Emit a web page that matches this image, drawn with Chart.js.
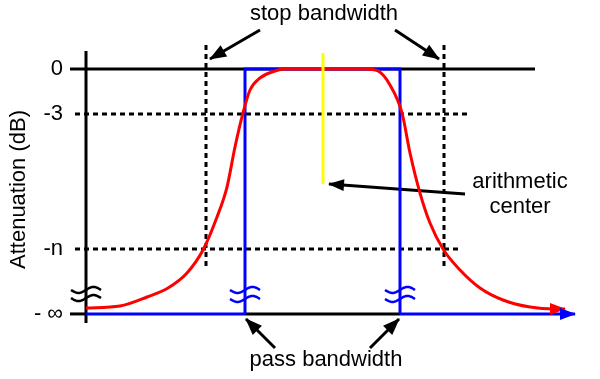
<!DOCTYPE html>
<html>
<head>
<meta charset="utf-8">
<script src="https://cdn.jsdelivr.net/npm/chart.js@4"></script>
<style>html,body{margin:0;background:#fff}</style>
</head>
<body>
<canvas id="myChart" width="600" height="379"></canvas>
<script>
// attenuation levels shown on the y axis (0 dB at top)
var levelValues = [0, -3, -12, -16.3];
var levelLabels = ['0', '-3', '-n', '- \u221e'];

// frequency positions, arbitrary units (0 = attenuation axis)
var passEdges = [159, 314];
var stopEdges = [120, 358];
var centerFreq = 237;
var freqEnd = 489;

// filter response
var responseFreq  = [0, 34, 61, 82, 101, 117, 131, 141, 149, 157, 164, 174, 186, 199, 279, 292, 304, 316, 324, 334, 344, 357, 374, 394, 417, 444, 469, 479];
var responseAtten = [-15.93, -15.8, -15.2, -14.6, -13.6, -12.07, -9.87, -7.87, -5.2, -2.93, -1.4, -0.6, -0.2, 0, 0, -0.13, -1.07, -2.93, -5.6, -8.27, -10.27, -12, -13.4, -14.6, -15.4, -15.87, -16, -16];

// annotations: [fromX, fromY, toX, toY]
var stopArrows = [[174, 2.6, 124, 0.67], [309, 2.6, 353, 0.67]];
var passArrows = [[189, -18.6, 160, -16.67], [284, -18.6, 313, -16.67]];
var centerArrow = [379, -8.33, 243, -7.67];

var FONT = '"Liberation Sans", Arial, sans-serif';
var BLUE = '#0000ff', RED = '#ff0000', BLACK = '#000000';

function line(pts, color, width, extra) {
    var ds = {
        data: pts.map(p => ({x: p[0], y: p[1]})),
        borderColor: color,
        backgroundColor: color,
        borderWidth: width,
        pointRadius: 0,
        showLine: true,
        clip: false,
        fill: false
    };
    return Object.assign(ds, extra || {});
}

var datasets = [];
// yellow arithmetic center marker
datasets.push(line([[centerFreq, 1.07], [centerFreq, -7.67]], '#ffff00', 3, {order: 0}));
// red response curve
datasets.push(line(responseFreq.map((f, i) => [f, responseAtten[i]]), RED, 3,
    {order: 1, cubicInterpolationMode: 'monotone', arrowSize: [15, 12]}));
// ideal pass band (blue)
datasets.push(line([[passEdges[0], -16.33], [passEdges[0], 0], [passEdges[1], 0], [passEdges[1], -16.33]], BLUE, 3, {order: 2}));
datasets.push(line([[0, -16.33], [passEdges[0], -16.33]], BLUE, 3, {order: 2}));
datasets.push(line([[passEdges[1], -16.33], [freqEnd, -16.33]], BLUE, 3, {order: 3, arrowSize: [15, 12]}));
datasets.push(line([[passEdges[0], -16.33], [passEdges[1], -16.33]], BLACK, 3, {order: 3}));
// axis and 0 dB line
datasets.push(line([[-16, -16.33], [0, -16.33]], BLACK, 3, {order: 4}));
datasets.push(line([[0, 1.2], [0, -16.93]], BLACK, 3, {order: 4}));
datasets.push(line([[-16, 0], [449, 0]], BLACK, 3, {order: 4}));
// dotted reference lines
datasets.push(line([[-11, -3], [382, -3]], BLACK, 3, {order: 5, borderDash: [5, 4]}));
datasets.push(line([[-11, -12], [374, -12]], BLACK, 3, {order: 5, borderDash: [5, 4]}));
stopEdges.forEach(function(f) {
    datasets.push(line([[f, 1.6], [f, -13.27]], BLACK, 3, {order: 5, borderDash: [5, 4]}));
});
// annotation arrows
stopArrows.concat(passArrows).forEach(function(a) {
    datasets.push(line([[a[0], a[1]], [a[2], a[3]]], BLACK, 3, {order: 6, arrowSize: [16, 13]}));
});
datasets.push(line([[centerArrow[0], centerArrow[1]], [centerArrow[2], centerArrow[3]]], BLACK, 3, {order: 6, arrowSize: [15, 12]}));

// break marks: [freq, atten, colour]
var breakMarks = [[0, -14.73, BLACK], [0, -15.27, BLACK],
                  [passEdges[0], -14.73, BLUE], [passEdges[0], -15.33, BLUE],
                  [passEdges[1], -14.73, BLUE], [passEdges[1], -15.33, BLUE]];

// text labels: [text, freq, atten]
var textLabels = [['stop bandwidth', 238, 3.67], ['pass bandwidth', 240, -19.4],
                  ['arithmetic', 434, -7.53], ['center', 434, -9.2]];

var decorations = {
    id: 'decorations',
    afterDatasetsDraw: function(chart) {
        var ctx = chart.ctx;
        var xs = chart.scales.x, ys = chart.scales.y;
        // arrow heads at the end of flagged datasets
        chart.data.datasets.forEach(function(ds, i) {
            if (!ds.arrowSize) return;
            var pts = chart.getDatasetMeta(i).data;
            var a = pts[pts.length - 2], b = pts[pts.length - 1];
            var ang = Math.atan2(b.y - a.y, b.x - a.x);
            ctx.save();
            ctx.translate(b.x, b.y);
            ctx.rotate(ang);
            ctx.beginPath();
            ctx.moveTo(1, 0);
            ctx.lineTo(-ds.arrowSize[0], -ds.arrowSize[1] / 2);
            ctx.lineTo(-ds.arrowSize[0], ds.arrowSize[1] / 2);
            ctx.closePath();
            ctx.fillStyle = ds.borderColor;
            ctx.fill();
            ctx.restore();
        });
        // wavy break marks
        breakMarks.forEach(function(m) {
            var cx = xs.getPixelForValue(m[0]), cy = ys.getPixelForValue(m[1]);
            ctx.save();
            ctx.strokeStyle = m[2];
            ctx.lineWidth = 2.5;
            ctx.beginPath();
            for (var t = -15; t <= 15; t++) {
                var y = cy - 3 * Math.sin(Math.PI * t / 15);
                if (t === -15) ctx.moveTo(cx + t, y); else ctx.lineTo(cx + t, y);
            }
            ctx.stroke();
            ctx.restore();
        });
        // labels
        ctx.save();
        ctx.fillStyle = BLACK;
        ctx.font = '22px ' + FONT;
        ctx.textAlign = 'center';
        ctx.textBaseline = 'middle';
        textLabels.forEach(function(t) {
            ctx.fillText(t[0], xs.getPixelForValue(t[1]), ys.getPixelForValue(t[2]));
        });
        ctx.restore();
    }
};

var ctx = document.getElementById('myChart').getContext('2d');
var myChart = new Chart(ctx, {
    type: 'scatter',
    data: {datasets: datasets},
    plugins: [decorations],
    options: {
        responsive: false,
        animation: false,
        layout: {padding: 0},
        plugins: {legend: {display: false}, tooltip: {enabled: false}},
        scales: {
            x: {type: 'linear', display: false, min: 0, max: 514},
            y: {
                type: 'linear',
                min: -20.667,
                max: 4.6,
                afterBuildTicks: function(axis) {
                    axis.ticks = levelValues.map(v => ({value: v}));
                },
                afterFit: function(axis) {
                    axis.width = 86;
                    axis.paddingTop = 0;
                    axis.paddingBottom = 0;
                },
                grid: {display: false, drawTicks: false},
                border: {display: false},
                ticks: {
                    autoSkip: false,
                    padding: 23,
                    color: BLACK,
                    font: {family: FONT, size: 22},
                    callback: function(v, i) { return levelLabels[i]; }
                },
                title: {
                    display: true,
                    text: 'Attenuation (dB)',
                    color: BLACK,
                    font: {family: FONT, size: 22},
                    padding: {top: 6, bottom: 0}
                }
            }
        }
    }
});
</script>
</body>
</html>
